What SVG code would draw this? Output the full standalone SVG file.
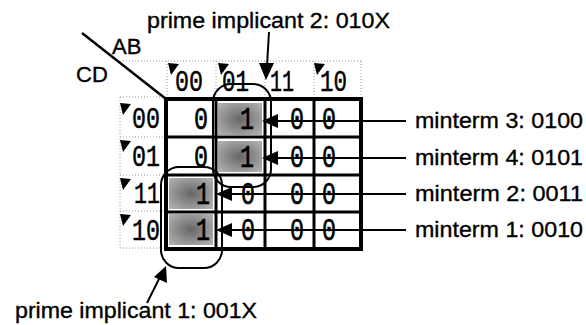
<svg xmlns="http://www.w3.org/2000/svg" width="586" height="325" viewBox="0 0 586 325">
<style>
.lbl{font-family:"Liberation Sans",Arial,sans-serif;font-size:22px;fill:#000;stroke:#000;stroke-width:0.35}
.dig{font-family:"Liberation Mono","DejaVu Sans Mono",monospace;font-size:32px;fill:#000;stroke:#000;stroke-width:0.7;text-anchor:middle}
.hd{font-family:"Liberation Mono","DejaVu Sans Mono",monospace;font-size:30px;fill:#000;stroke:#000;stroke-width:0.5}
.dot{stroke:#9a9a9a;stroke-width:1;stroke-dasharray:1 2;fill:none}
.tri{fill:#000}
.shade{fill:url(#sg)}
.loop{fill:none;stroke:#000;stroke-width:2}
.ln{stroke:#000;stroke-width:2;fill:none}
.ah{fill:#000}
</style>
<defs>
<radialGradient id="sg" cx="0.5" cy="0.5" r="0.65">
<stop offset="0" stop-color="#666"/>
<stop offset="1" stop-color="#b0b0b0"/>
</radialGradient>
</defs>

<g id="header">
<line class="dot" x1="123" y1="61" x2="361" y2="61"/>
<line class="dot" x1="167" y1="61" x2="167" y2="99"/>
<line class="dot" x1="216" y1="61" x2="216" y2="99"/>
<line class="dot" x1="265" y1="61" x2="265" y2="99"/>
<line class="dot" x1="314" y1="61" x2="314" y2="99"/>
<line class="dot" x1="361" y1="61" x2="361" y2="99"/>
<line class="dot" x1="120" y1="97" x2="120" y2="248"/>
<line class="dot" x1="120" y1="97" x2="166" y2="97"/>
<line class="dot" x1="120" y1="137" x2="166" y2="137"/>
<line class="dot" x1="120" y1="175" x2="166" y2="175"/>
<line class="dot" x1="120" y1="211" x2="166" y2="211"/>
<line class="dot" x1="120" y1="248" x2="166" y2="248"/>
<polygon class="tri" points="168,63 179,64 171,75"/>
<polygon class="tri" points="218,63 229,64 221,75"/>
<polygon class="tri" points="314,63 325,64 317,75"/>
<polygon class="tri" points="120,103 131,104 123,115"/>
<polygon class="tri" points="120,140 131,141 123,152"/>
<polygon class="tri" points="120,178 131,179 123,190"/>
<polygon class="tri" points="120,214 131,215 123,226"/>
<line x1="82" y1="33" x2="166" y2="99" stroke="#000" stroke-width="2.5"/>
<text class="lbl" x="112" y="54">AB</text>
<text class="lbl" x="76" y="82">CD</text>
<text class="hd" x="175" y="91" textLength="28" lengthAdjust="spacingAndGlyphs">00</text>
<text class="hd" x="222" y="91" textLength="27" lengthAdjust="spacingAndGlyphs">01</text>
<text class="hd" x="270" y="91" textLength="24" lengthAdjust="spacingAndGlyphs">11</text>
<text class="hd" x="320" y="91" textLength="27" lengthAdjust="spacingAndGlyphs">10</text>
<text class="hd" x="132" y="128" textLength="28" lengthAdjust="spacingAndGlyphs">00</text>
<text class="hd" x="132" y="166" textLength="28" lengthAdjust="spacingAndGlyphs">01</text>
<text class="hd" x="134" y="203" textLength="26" lengthAdjust="spacingAndGlyphs">11</text>
<text class="hd" x="132" y="240" textLength="28" lengthAdjust="spacingAndGlyphs">10</text>
</g>

<g id="kmap">
<rect class="shade" x="218" y="103" width="44" height="32"/>
<rect class="shade" x="218" y="141" width="44" height="31"/>
<rect class="shade" x="169" y="178" width="44" height="31"/>
<rect class="shade" x="169" y="214" width="44" height="31"/>
<line x1="216" y1="99" x2="216" y2="249" stroke="#000" stroke-width="3"/>
<line x1="265" y1="99" x2="265" y2="249" stroke="#000" stroke-width="3"/>
<line x1="314" y1="99" x2="314" y2="249" stroke="#000" stroke-width="3"/>
<line x1="166" y1="137" x2="361" y2="137" stroke="#000" stroke-width="3"/>
<line x1="166" y1="175" x2="361" y2="175" stroke="#000" stroke-width="3"/>
<line x1="166" y1="212" x2="361" y2="212" stroke="#000" stroke-width="3"/>
<rect x="166" y="99" width="195" height="150" fill="none" stroke="#000" stroke-width="4"/>
<text class="dig" x="201" y="129" textLength="14" lengthAdjust="spacingAndGlyphs">0</text>
<text class="dig" x="247" y="129" textLength="14" lengthAdjust="spacingAndGlyphs">1</text>
<text class="dig" x="297" y="129" textLength="14" lengthAdjust="spacingAndGlyphs">0</text>
<text class="dig" x="329" y="129" textLength="14" lengthAdjust="spacingAndGlyphs">0</text>
<text class="dig" x="201" y="167" textLength="14" lengthAdjust="spacingAndGlyphs">0</text>
<text class="dig" x="247" y="167" textLength="14" lengthAdjust="spacingAndGlyphs">1</text>
<text class="dig" x="297" y="167" textLength="14" lengthAdjust="spacingAndGlyphs">0</text>
<text class="dig" x="329" y="167" textLength="14" lengthAdjust="spacingAndGlyphs">0</text>
<text class="dig" x="203" y="204" textLength="14" lengthAdjust="spacingAndGlyphs">1</text>
<text class="dig" x="248" y="204" textLength="14" lengthAdjust="spacingAndGlyphs">0</text>
<text class="dig" x="297" y="204" textLength="14" lengthAdjust="spacingAndGlyphs">0</text>
<text class="dig" x="329" y="204" textLength="14" lengthAdjust="spacingAndGlyphs">0</text>
<text class="dig" x="203" y="240" textLength="14" lengthAdjust="spacingAndGlyphs">1</text>
<text class="dig" x="248" y="240" textLength="14" lengthAdjust="spacingAndGlyphs">0</text>
<text class="dig" x="297" y="240" textLength="14" lengthAdjust="spacingAndGlyphs">0</text>
<text class="dig" x="329" y="240" textLength="14" lengthAdjust="spacingAndGlyphs">0</text>
</g>

<g id="pi2-loop"><rect class="loop" x="213" y="84" width="58" height="103" rx="18"/></g>
<g id="pi1-loop"><rect class="loop" x="161" y="167" width="61" height="101" rx="18"/></g>

<g id="connectors">
<line class="ln" x1="406" y1="121" x2="275" y2="121"/>
<polygon class="ah" points="262,121 278,114 278,128"/>
<line class="ln" x1="406" y1="158" x2="275" y2="158"/>
<polygon class="ah" points="262,158 278,151 278,165"/>
<line class="ln" x1="406" y1="194" x2="229" y2="194"/>
<polygon class="ah" points="216,194 232,187 232,201"/>
<line class="ln" x1="406" y1="230" x2="229" y2="230"/>
<polygon class="ah" points="216,230 232,223 232,237"/>
<line class="ln" x1="269" y1="32" x2="267" y2="66" stroke-width="2.5"/>
<polygon class="ah" points="266,80 259,63 274,63"/>
<line class="ln" x1="147" y1="303" x2="160" y2="277" stroke-width="3"/>
<polygon class="ah" points="166,266 167,283 154,277"/>
</g>

<g id="labels">
<text class="lbl" x="147" y="28" textLength="243" lengthAdjust="spacingAndGlyphs">prime implicant 2: 010X</text>
<text class="lbl" x="15" y="318" textLength="242" lengthAdjust="spacingAndGlyphs">prime implicant 1: 001X</text>
<text class="lbl" x="415" y="128" textLength="168" lengthAdjust="spacingAndGlyphs">minterm 3: 0100</text>
<text class="lbl" x="415" y="165" textLength="168" lengthAdjust="spacingAndGlyphs">minterm 4: 0101</text>
<text class="lbl" x="415" y="201" textLength="168" lengthAdjust="spacingAndGlyphs">minterm 2: 0011</text>
<text class="lbl" x="415" y="237" textLength="168" lengthAdjust="spacingAndGlyphs">minterm 1: 0010</text>
</g>
</svg>
